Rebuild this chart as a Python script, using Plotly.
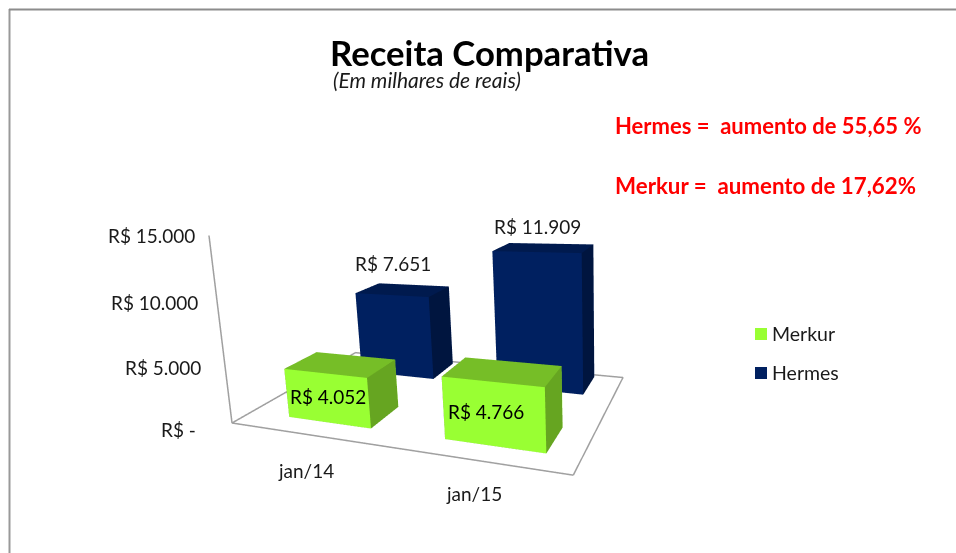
import plotly.graph_objects as go

categories = ["jan/14", "jan/15"]
merkur = [4052, 4766]
hermes = [7651, 11909]
ticks = [0, 5000, 10000, 15000]
ticktext = ["R$ -", "R$ 5.000", "R$ 10.000", "R$ 15.000"]

W, H = 956, 553
Zmax = 15000
FONT = "Lato"
DK = "#1a1a1a"
GREEN = ["#99FF33", "#76BE27", "#66A521"]
NAVY = ["#002060", "#001A4E", "#00153F"]

# bar footprint in scene units
bar_x = [0.5477, 1.5479]
bar_y = [0.4953, 1.7039]
bar_w, bar_d = 0.5505, 0.4767
# scene placement and camera
cx, hw = 465.37, 465.37
eye = dict(x=0.8481, y=-1.7248, z=0.4933)
center = dict(x=-0.0019, y=0.2617, z=0.0546)
up = dict(x=-1.0323, y=2.5930, z=1)
aspect = dict(x=1, y=0.6679, z=0.5459)

tick_shift = [(-34, -7), (-22, -5), (-17, -2), (-12, 0)]
cat_shift = [(2, -37), (1, -34)]
hermes_shift = [(-9, 26), (-6, 21)]
merkur_shift = [(1, 2), (-7, 3)]


def fmt(v):
    return "R$ " + f"{v:,}".replace(",", ".")


def mesh(vals, j, cols, name):
    X, Y, Z, I, J, K, FC = [], [], [], [], [], [], []
    quads = [((0, 1, 5, 4), cols[0]), ((4, 5, 6, 7), cols[1]), ((1, 2, 6, 5), cols[2]),
             ((0, 3, 7, 4), cols[2]), ((3, 2, 6, 7), cols[0]), ((0, 1, 2, 3), cols[2])]
    for i, v in enumerate(vals):
        n = len(X)
        for z in (0, v):
            for sx, sy in ((-1, -1), (1, -1), (1, 1), (-1, 1)):
                X.append(bar_x[i] + sx * bar_w / 2)
                Y.append(bar_y[j] + sy * bar_d / 2)
                Z.append(z)
        for q, c in quads:
            I += [n + q[0], n + q[0]]
            J += [n + q[1], n + q[2]]
            K += [n + q[2], n + q[3]]
            FC += [c, c]
    return go.Mesh3d(x=X, y=Y, z=Z, i=I, j=J, k=K, facecolor=FC, flatshading=True, name=name,
                     showlegend=False, hoverinfo="skip",
                     lighting=dict(ambient=1, diffuse=0, specular=0, fresnel=0, roughness=1))


fig = go.Figure()
fig.add_trace(go.Scatter3d(x=[0, 2, 2, 0, 0, 0], y=[0, 0, 2, 2, 0, 0], z=[0, 0, 0, 0, 0, Zmax], mode="lines",
                           line=dict(color="#a0a0a0", width=3), showlegend=False, hoverinfo="skip"))
fig.add_trace(mesh(hermes, 1, NAVY, "Hermes"))
fig.add_trace(mesh(merkur, 0, GREEN, "Merkur"))

sa = []
for t, tt, (dx, dy) in zip(ticks, ticktext, tick_shift):
    sa.append(dict(x=0, y=0, z=t, text=tt, showarrow=False, xanchor="right", xshift=dx, yshift=dy,
                   font=dict(family=FONT, size=19, color=DK)))
for i, (c, (dx, dy)) in enumerate(zip(categories, cat_shift)):
    sa.append(dict(x=i + .5, y=0, z=0, text=c, showarrow=False, xshift=dx, yshift=dy,
                   font=dict(family=FONT, size=19, color=DK)))
for i, (v, (dx, dy)) in enumerate(zip(hermes, hermes_shift)):
    sa.append(dict(x=bar_x[i], y=bar_y[1], z=v, text=fmt(v), showarrow=False, xshift=dx, yshift=dy,
                   font=dict(family=FONT, size=19, color=DK)))
for i, (v, (dx, dy)) in enumerate(zip(merkur, merkur_shift)):
    sa.append(dict(x=bar_x[i], y=bar_y[0] - bar_d / 2, z=v / 2, text=fmt(v), showarrow=False, xshift=dx, yshift=dy,
                   font=dict(family=FONT, size=19, color="black")))


def ann(x, y, t, size, color=DK, anchor="left"):
    return dict(x=x / W, y=1 - y / H, xref="paper", yref="paper", text=t, showarrow=False, xanchor=anchor,
                yanchor="middle", borderpad=0, borderwidth=0, font=dict(family=FONT, size=size, color=color))


anns = [ann(489, 52, "<b>Receita Comparativa</b>", 34.7, "black", "center"),
        ann(333, 80, "<i>(Em milhares de reais)</i>", 21),
        ann(615, 125, "<b>Hermes =  aumento de 55,65 %</b>", 22, "#ff0000"),
        ann(615, 186, "<b>Merkur =  aumento de 17,62%</b>", 22.3, "#ff0000"),
        ann(772, 333, "Merkur", 19.5), ann(772, 372, "Hermes", 19.5)]

px = lambda x: x / W
py = lambda y: 1 - y / H
shapes = [dict(type="rect", xref="paper", yref="paper", x0=px(755), x1=px(767), y0=py(328), y1=py(340),
               fillcolor=GREEN[0], line_width=0),
          dict(type="rect", xref="paper", yref="paper", x0=px(755), x1=px(767), y0=py(367), y1=py(379),
               fillcolor=NAVY[0], line_width=0),
          dict(type="line", xref="paper", yref="paper", x0=px(9.5), x1=px(9.5), y0=py(9), y1=0,
               line=dict(color="#999999", width=2)),
          dict(type="line", xref="paper", yref="paper", x0=px(9), x1=1, y0=py(9.5), y1=py(9.5),
               line=dict(color="#8c8c8c", width=2))]

fig.update_layout(
    width=W, height=H, margin=dict(l=0, r=0, t=0, b=0), paper_bgcolor="white", showlegend=False,
    scene=dict(domain=dict(x=[(cx - hw) / W, (cx + hw) / W], y=[0, 1]), annotations=sa,
               xaxis=dict(visible=False, range=[0, 2]), yaxis=dict(visible=False, range=[0, 2]),
               zaxis=dict(visible=False, range=[0, Zmax]),
               aspectmode="manual", aspectratio=aspect, camera=dict(eye=eye, center=center, up=up)),
    shapes=shapes, annotations=anns)
fig.write_html("out.html", post_script="document.body.style.margin='0';", config=dict(displayModeBar=False))
